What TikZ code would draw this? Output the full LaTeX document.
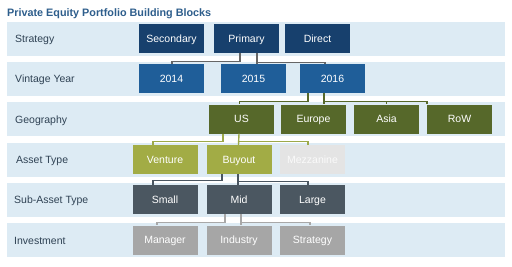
\documentclass[tikz,border=0pt]{standalone}
\usepackage{fontspec}
\setmainfont{Liberation Sans}
\definecolor{bandc}{HTML}{DDEBF4}
\definecolor{titlec}{HTML}{2E5E8C}
\definecolor{labelc}{HTML}{2F4254}
\definecolor{stratc}{HTML}{17406D}
\definecolor{vintc}{HTML}{1F5E99}
\definecolor{geoc}{HTML}{56682A}
\definecolor{assetc}{HTML}{A2AC45}
\definecolor{mezzc}{HTML}{E4E4E4}
\definecolor{subc}{HTML}{4B5761}
\definecolor{invc}{HTML}{A6A6A6}
\definecolor{lvint}{HTML}{666666}
\definecolor{lgeo}{HTML}{56682A}
\definecolor{lasset}{HTML}{9CA94A}
\definecolor{lsub}{HTML}{4A5661}
\definecolor{linv}{HTML}{A8A8A8}
\tikzset{
  band/.style={fill=bandc, draw=none},
  blk/.style={draw=none, minimum width=65pt, minimum height=29pt, inner sep=0pt,
    text=white, font=\fontsize{10.5}{12}\selectfont, text height=7.6pt, text depth=0pt},
  rowlabel/.style={anchor=base west, inner sep=0pt, text=labelc, font=\fontsize{10.5}{12}\selectfont},
  conn/.style={line width=1.4pt},
}
\begin{document}
\begin{tikzpicture}[x=1pt,y=-1pt]
\useasboundingbox (0,0) rectangle (512,266);
\fill[white] (0,0) rectangle (512,266);
\node[anchor=base west, inner sep=0pt, text=titlec, font=\fontsize{10.8}{12}\selectfont\bfseries] (title) at (7,16) {Private Equity Portfolio Building Blocks};
% bands
\foreach \t in {22,62.2,102.4,142.6,182.8,223}{
  \fill[band] (7,\t) rectangle (505,\t+34);
}
% labels
\node[rowlabel] (lstrat) at (15,42.5) {Strategy};
\node[rowlabel] (lvintage) at (15,82.5) {Vintage Year};
\node[rowlabel] (lgeog) at (15,123) {Geography};
\node[rowlabel] (lasset) at (16,163.5) {Asset Type};
\node[rowlabel] (lsubasset) at (14,203.5) {Sub-Asset Type};
\node[rowlabel] (linvest) at (14,244) {Investment};
% strategy
\node[blk, fill=stratc] (secondary) at (171.5,38.5) {Secondary};
\node[blk, fill=stratc] (primary) at (246.5,38.5) {Primary};
\node[blk, fill=stratc] (direct) at (317.5,38.5) {Direct};
% vintage
\node[blk, fill=vintc] (y2014) at (171.5,78.5) {2014};
\node[blk, fill=vintc] (y2015) at (253.5,78.5) {2015};
\node[blk, fill=vintc] (y2016) at (332.5,78.5) {2016};
% geography
\node[blk, fill=geoc] (us) at (241.5,119) {US};
\node[blk, fill=geoc] (europe) at (313.5,119) {Europe};
\node[blk, fill=geoc] (asia) at (386.5,119) {Asia};
\node[blk, fill=geoc] (row) at (459.5,119) {RoW};
% asset type
\node[blk, fill=assetc] (venture) at (165,159.5) {Venture};
\node[blk, fill=assetc] (buyout) at (239,159.5) {Buyout};
\node[blk, fill=mezzc, text=white!96!gray] (mezz) at (312.5,159.5) {Mezzanine};
% sub-asset
\node[blk, fill=subc] (small) at (165,199.5) {Small};
\node[blk, fill=subc] (mid) at (239,199.5) {Mid};
\node[blk, fill=subc] (large) at (312.5,199.5) {Large};
% investment
\node[blk, fill=invc] (manager) at (165,240) {Manager};
\node[blk, fill=invc] (industry) at (239,240) {Industry};
\node[blk, fill=invc] (strategy) at (312.5,240) {Strategy};
% connectors: primary -> vintage
\draw[conn, lvint] ([xshift=-6.5pt]primary.south) -- ++(0,8) -| ([xshift=0.5pt]y2014.north);
\draw[conn, lvint] ([xshift=10.5pt]primary.south) -- ([xshift=3.5pt]y2015.north);
\draw[conn, lvint] ([xshift=10.5pt]primary.south) ++(0,9) -| ([xshift=-7.5pt]y2016.north);
% 2016 -> geography
\draw[conn, lgeo] ([xshift=-24.5pt]y2016.south) -- ++(0,8) -| ([xshift=-2pt]us.north);
\draw[conn, lgeo] ([xshift=-8.5pt]y2016.south) -- ([xshift=10.5pt]europe.north);
\draw[conn, lgeo] ([xshift=-8.5pt]y2016.south) ++(0,8.5) -| (asia.north);
\draw[conn, lgeo] ([xshift=-8.5pt]y2016.south) ++(0,8.5) -| ([xshift=-32.5pt]row.north);
% US -> asset
\draw[conn, lasset] ([xshift=-18.5pt]us.south) -- ++(0,8) -| ([xshift=-12pt]venture.north);
\draw[conn, lasset] ([xshift=-2.5pt]us.south) -- ([xshift=-0.5pt]buyout.north);
\draw[conn, lasset] ([xshift=-2.5pt]us.south) ++(0,8) -| ([xshift=-4.5pt]mezz.north);
% Buyout -> sub-asset
\draw[conn, lsub] ([xshift=-17pt]buyout.south) -- ++(0,6.5) -| ([xshift=-12pt]small.north);
\draw[conn, lsub] ([xshift=-1pt]buyout.south) -- ([xshift=-1pt]mid.north);
\draw[conn, lsub] ([xshift=-1pt]buyout.south) ++(0,7) -| ([xshift=-4.5pt]large.north);
% Mid -> investment
\draw[conn, linv] ([xshift=-14pt]mid.south) -- ++(0,8.5) -| ([xshift=-8pt]manager.north);
\draw[conn, linv] ([xshift=2pt]mid.south) -- ([xshift=2pt]industry.north);
\draw[conn, linv] ([xshift=2pt]mid.south) ++(0,8) -| ([xshift=-2.5pt]strategy.north);
\end{tikzpicture}
\end{document}
